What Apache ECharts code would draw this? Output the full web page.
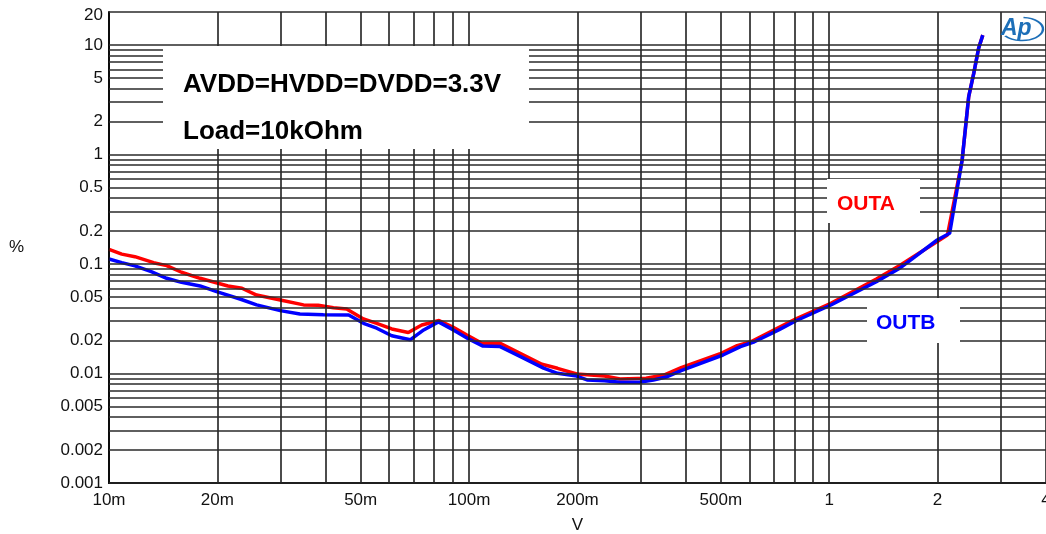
<!DOCTYPE html>
<html><head><meta charset="utf-8">
<script src="https://cdn.jsdelivr.net/npm/echarts@6/dist/echarts.min.js"></script>
<style>html,body{margin:0;padding:0;background:#fff}#c{width:1046px;height:534px}</style>
</head><body><div id="c"></div>
<script>
// ---- tick labels ----
const xTickValues = [0.01, 0.02, 0.05, 0.1, 0.2, 0.5, 1, 2, 4];
const xTickLabels = ['10m', '20m', '50m', '100m', '200m', '500m', '1', '2', '4'];
const yTickValues = [0.001, 0.002, 0.005, 0.01, 0.02, 0.05, 0.1, 0.2, 0.5, 1, 2, 5, 10, 20];
const yTickLabels = ['0.001', '0.002', '0.005', '0.01', '0.02', '0.05', '0.1', '0.2', '0.5', '1', '2', '5', '10', '20'];

// ---- OUTA (red) ----
const outaV = [0.01, 0.01085, 0.0118, 0.0133, 0.01446, 0.0159, 0.0179, 0.0214, 0.0234, 0.0257, 0.0299, 0.0347, 0.0381, 0.042, 0.0457, 0.0509, 0.0554, 0.061, 0.0678, 0.0739, 0.0825, 0.0904, 0.0986, 0.1085, 0.122, 0.1593, 0.176, 0.199, 0.2377, 0.2625, 0.31, 0.3475, 0.388, 0.496, 0.555, 0.606, 0.724, 0.809, 1.011, 1.352, 1.578, 2.13, 2.34, 2.44, 2.52, 2.6, 2.67];
const outaPct = [0.136, 0.123, 0.1166, 0.1028, 0.0966, 0.084, 0.074, 0.063, 0.060, 0.052, 0.0469, 0.0423, 0.042, 0.0399, 0.0388, 0.0315, 0.0287, 0.0255, 0.0237, 0.0277, 0.0305, 0.0264, 0.0225, 0.0189, 0.0189, 0.01213, 0.01115, 0.00989, 0.00949, 0.0089, 0.00904, 0.00968, 0.0113, 0.01507, 0.01795, 0.0195, 0.0262, 0.0315, 0.0438, 0.073, 0.098, 0.184, 0.891, 3.37, 5.51, 9.33, 12.3];

// ---- OUTB (blue) ----
const outbV = [0.01, 0.01085, 0.0118, 0.0131, 0.01446, 0.0159, 0.0179, 0.0199, 0.0231, 0.0257, 0.0299, 0.0339, 0.0394, 0.0463, 0.0509, 0.0554, 0.061, 0.0686, 0.0748, 0.0822, 0.0904, 0.0997, 0.1093, 0.122, 0.1394, 0.161, 0.176, 0.197, 0.2126, 0.2377, 0.2625, 0.297, 0.325, 0.355, 0.388, 0.507, 0.567, 0.62, 0.724, 0.809, 1.011, 1.352, 1.578, 1.995, 2.16, 2.34, 2.44, 2.52, 2.6, 2.67];
const outbPct = [0.111, 0.1028, 0.096, 0.085, 0.074, 0.068, 0.063, 0.0559, 0.0479, 0.0423, 0.0375, 0.0349, 0.0344, 0.0342, 0.0287, 0.0259, 0.0221, 0.0203, 0.025, 0.0296, 0.025, 0.0207, 0.0178, 0.0176, 0.0142, 0.0112, 0.01004, 0.00955, 0.00873, 0.0086, 0.00832, 0.00832, 0.00873, 0.00935, 0.0106, 0.01475, 0.0176, 0.0195, 0.025, 0.0303, 0.0422, 0.0689, 0.0925, 0.1656, 0.1905, 0.891, 3.37, 5.51, 9.33, 12.3];

const X_MIN = 0.01, X_MAX = 4, Y_MIN = 0.001, Y_MAX = 20;

function gridValues(lo, hi) {
  const out = [];
  for (let d = lo; d < hi * 1.0001; d *= 10) {
    for (let k = 1; k <= 9; k++) {
      const v = +(d * k).toPrecision(3);
      if (v >= lo * 0.9999 && v <= hi * 1.0001) out.push(v);
    }
  }
  if (!out.some(v => Math.abs(v - hi) / hi < 1e-6)) out.push(hi);
  return out;
}
function labelFor(v, vals, labels) {
  for (let i = 0; i < vals.length; i++) if (Math.abs(vals[i] - v) / vals[i] < 1e-6) return labels[i];
  return null;
}
const FONT = '"Liberation Sans", Arial, sans-serif';
const labelFont = { fontFamily: FONT, fontSize: 17, color: '#111' };

const xLines = gridValues(X_MIN, X_MAX).map(v => {
  const t = labelFor(v, xTickValues, xTickLabels);
  return { xAxis: v, label: t ? Object.assign({ show: true, position: 'start', distance: 9, formatter: t }, labelFont) : { show: false } };
});
const yLines = gridValues(Y_MIN, Y_MAX).map(v => {
  const t = labelFor(v, yTickValues, yTickLabels);
  const lab = t ? Object.assign({ show: true, position: 'start', distance: 6, formatter: t }, labelFont) : { show: false };
  if (t === '20') lab.offset = [0, 3];
  return { yAxis: v, label: lab };
});

const chart = echarts.init(document.getElementById('c'), null, { renderer: 'canvas' });
chart.setOption({
  animation: false,
  backgroundColor: '#fff',
  grid: { left: 109, right: 0, top: 12, bottom: 51, containLabel: false, outerBoundsMode: 'none' },
  xAxis: {
    type: 'log', logBase: 10, min: X_MIN, max: X_MAX,
    name: 'V', nameLocation: 'middle', nameGap: 34,
    nameTextStyle: { fontFamily: FONT, fontSize: 17, color: '#111' },
    axisLine: { show: true, lineStyle: { color: '#000', width: 2 } },
    axisTick: { show: false }, axisLabel: { show: false }, splitLine: { show: false }
  },
  yAxis: {
    type: 'log', logBase: 10, min: Y_MIN, max: Y_MAX,
    name: '%', nameLocation: 'middle', nameGap: 85, nameRotate: 0,
    nameTextStyle: { fontFamily: FONT, fontSize: 17, color: '#111' },
    axisLine: { show: true, lineStyle: { color: '#000', width: 2 } },
    axisTick: { show: false }, axisLabel: { show: false }, splitLine: { show: false }
  },
  series: [
    {
      type: 'line', name: 'grid-x', z: 1, data: [], silent: true,
      markLine: { silent: true, precision: 8, symbol: ['none', 'none'], animation: false,
        lineStyle: { color: '#111', width: 1.5, type: 'solid' }, emphasis: { disabled: true }, data: xLines }
    },
    {
      type: 'line', name: 'grid-y', z: 1, data: [], silent: true,
      markLine: { silent: true, precision: 8, symbol: ['none', 'none'], animation: false,
        lineStyle: { color: '#2a2a2a', width: 1.5, type: 'solid' }, emphasis: { disabled: true }, data: yLines }
    },
    {
      type: 'line', name: 'OUTA', z: 3, symbol: 'none', smooth: false,
      lineStyle: { color: '#ff0000', width: 3.5 },
      data: outaV.map((v, i) => [v, outaPct[i]])
    },
    {
      type: 'line', name: 'OUTB', z: 4, symbol: 'none', smooth: false,
      lineStyle: { color: '#0000ff', width: 3.5 },
      data: outbV.map((v, i) => [v, outbPct[i]])
    }
  ],
  graphic: [
    { type: 'rect', z: 50, shape: { x: 163, y: 46, width: 366, height: 103 }, style: { fill: '#fff' } },
    { type: 'text', z: 51, x: 183, y: 72, style: { text: 'AVDD=HVDD=DVDD=3.3V', font: 'bold 26px ' + FONT, fill: '#000' } },
    { type: 'text', z: 51, x: 183, y: 119, style: { text: 'Load=10kOhm', font: 'bold 26px ' + FONT, fill: '#000' } },
    { type: 'rect', z: 50, shape: { x: 827, y: 179, width: 93, height: 44 }, style: { fill: '#fff' } },
    { type: 'text', z: 51, x: 837, y: 194, style: { text: 'OUTA', font: 'bold 21px ' + FONT, fill: '#ff0000' } },
    { type: 'rect', z: 50, shape: { x: 867, y: 298, width: 93, height: 45 }, style: { fill: '#fff' } },
    { type: 'text', z: 51, x: 876, y: 313, style: { text: 'OUTB', font: 'bold 21px ' + FONT, fill: '#0000ff' } },
    { type: 'text', z: 52, x: 1001, y: 17, style: { text: 'Ap', font: 'italic bold 23px ' + FONT, fill: '#1d6fb8' } },
    { type: 'arc', z: 52, shape: { cx: 1022, cy: 29, r: 21, startAngle: -1.5, endAngle: 2.5, clockwise: true }, scaleY: 0.55, originX: 1022, originY: 29, style: { stroke: '#1d6fb8', lineWidth: 2.5, fill: null } }
  ]
});
</script></body></html>
